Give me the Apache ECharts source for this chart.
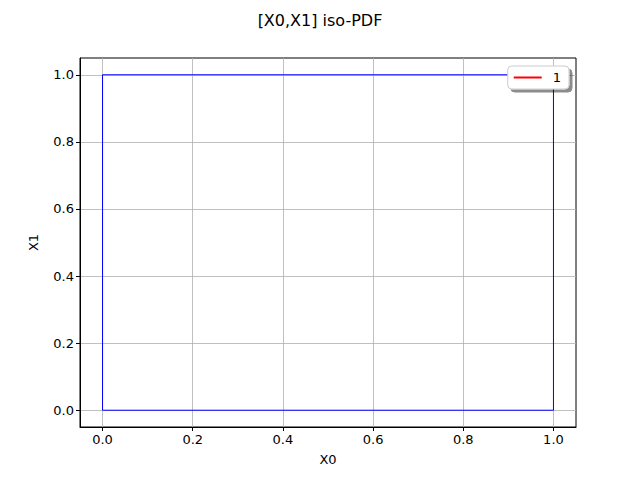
<!DOCTYPE html>
<html>
<head>
<meta charset="utf-8">
<script src="https://cdn.jsdelivr.net/npm/echarts@6/dist/echarts.min.js"></script>
<style>
  html, body { margin: 0; padding: 0; background: #fff; }
  #chart { width: 640px; height: 480px; }
</style>
</head>
<body>
<div id="chart"></div>
<script>
var chartDom = document.getElementById("chart");
var chart = echarts.init(chartDom, null, {renderer: "svg"});

// iso-contour of the PDF: a unit square
var contourX = [0, 1, 1, 0, 0];
var contourY = [0, 0, 1, 1, 0];
var tickValues = [0, 0.2, 0.4, 0.6, 0.8, 1.0];
var legendNames = ["1"];

var points = contourX.map(function (x, i) { return [x, contourY[i]]; });

function axisCommon(name, gap) {
  return {
    type: "value",
    min: -0.05,
    max: 1.05,
    name: name,
    nameLocation: "middle",
    nameGap: gap,
    nameTextStyle: {color: "#000", fontSize: 13, fontFamily: "DejaVu Sans"},
    axisLine: {show: true, onZero: false, lineStyle: {color: "#000", width: 1}},
    axisTick: {show: true, length: 4, customValues: tickValues, lineStyle: {color: "#000"}},
    axisLabel: {
      customValues: tickValues,
      color: "#000",
      fontSize: 13,
      margin: 6,
      fontFamily: "DejaVu Sans",
      formatter: function (v) { return v.toFixed(1); }
    },
    splitLine: {show: true, lineStyle: {color: "#b0b0b0", width: 0.8}}
  };
}

chart.setOption({
  animation: false,
  title: {
    text: "[X0,X1] iso-PDF",
    left: "center",
    top: 7,
    textStyle: {color: "#000", fontSize: 16, fontWeight: "normal", fontFamily: "DejaVu Sans"}
  },
  grid: {
    left: 80, right: 64, top: 58, bottom: 53,
    show: true, borderColor: "#000", borderWidth: 1
  },
  legend: {
    data: [{name: legendNames[0], icon: "rect"}],
    right: 71,
    top: 66,
    orient: "vertical",
    itemWidth: 28,
    itemHeight: 2,
    itemGap: 0,
    padding: [5, 8, 5, 6],
    backgroundColor: "#fff",
    borderColor: "#ccc",
    borderWidth: 1,
    borderRadius: 4,
    shadowColor: "rgba(0,0,0,0.45)",
    shadowOffsetX: 3,
    shadowOffsetY: 3,
    shadowBlur: 0,
    textStyle: {color: "#000", fontSize: 13, fontFamily: "DejaVu Sans", padding: [0, 0, 0, 6]}
  },
  xAxis: axisCommon("X0", 26),
  yAxis: axisCommon("X1", 40),
  series: [
    {
      name: "contour",
      type: "line",
      data: points,
      symbol: "none",
      lineStyle: {color: "#0000ff", width: 1}
    },
    {
      name: "1",
      type: "line",
      data: [],
      symbol: "none",
      itemStyle: {color: "#ff0000"},
      lineStyle: {color: "#ff0000", width: 1.5}
    }
  ]
});
</script>
</body>
</html>
